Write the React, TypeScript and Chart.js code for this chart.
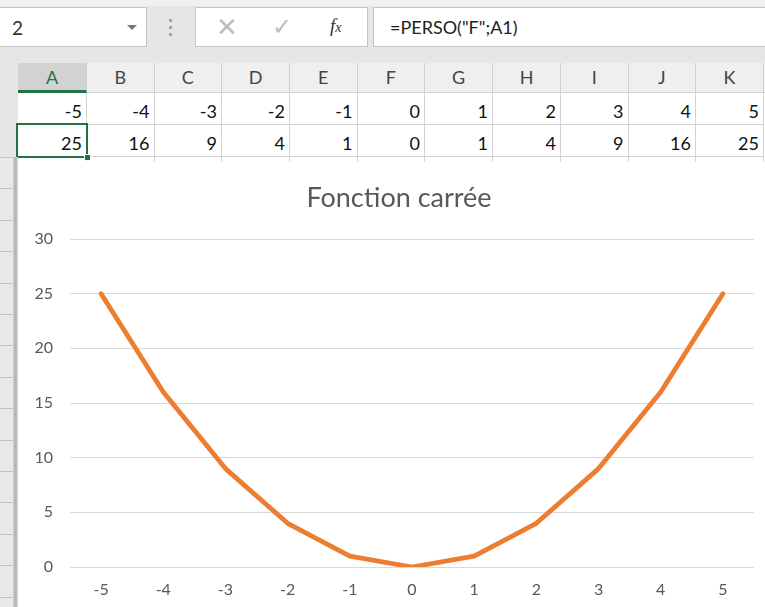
import React, { useEffect, useRef } from "react";
import { Chart, registerables } from "chart.js";

Chart.register(...registerables);

// ---- data ----
const COLUMNS = ["A", "B", "C", "D", "E", "F", "G", "H", "I", "J", "K"];
const X_VALUES = [-5, -4, -3, -2, -1, 0, 1, 2, 3, 4, 5];
const Y_VALUES = [25, 16, 9, 4, 1, 0, 1, 4, 9, 16, 25];
const CHART_TITLE = "Fonction carrée";
const FORMULA = '=PERSO("F";A1)';
const NAME_BOX = "2";
const Y_MIN = 0;
const Y_MAX = 30;
const Y_STEP = 5;

// ---- layout ----
const COL_EDGES = [18, 87, 154.5, 222, 290, 357.5, 425, 493, 561, 628.5, 696, 764];
const FONT = "Lato, 'Open Sans', sans-serif";
const GRID = "#d4d4d4";

// Draws the chart title centred over the whole chart object (Excel-style)
const excelTitle = {
  id: "excelTitle",
  afterDraw(chart: any) {
    const ctx = chart.ctx;
    ctx.save();
    ctx.font = `27px ${FONT}`;
    ctx.fillStyle = "#595959";
    ctx.textAlign = "center";
    ctx.textBaseline = "middle";
    ctx.fillText(CHART_TITLE, 381, 36);
    ctx.restore();
  },
};

function ChartBox() {
  const ref = useRef<HTMLCanvasElement | null>(null);
  useEffect(() => {
    if (!ref.current) return;
    const chart = new Chart(ref.current, {
      type: "line",
      data: {
        labels: X_VALUES.map(String),
        datasets: [
          {
            data: Y_VALUES,
            borderColor: "#ED7D31",
            backgroundColor: "#ED7D31",
            borderWidth: 4.8,
            pointRadius: 0,
            tension: 0,
            borderJoinStyle: "round",
            borderCapStyle: "round",
          },
        ],
      },
      plugins: [excelTitle],
      options: {
        responsive: false,
        animation: false,
        layout: { padding: { left: 0, right: 11, top: 77, bottom: 0 } },
        plugins: {
          legend: { display: false },
          tooltip: { enabled: false },
          title: { display: false },
        },
        scales: {
          x: {
            type: "category",
            offset: true,
            grid: { display: false, drawTicks: false },
            border: { display: false },
            ticks: {
              color: "#595959",
              font: { family: FONT, size: 16 },
              padding: 13,
              maxRotation: 0,
            },
            afterFit: (s: any) => {
              s.height = 40;
            },
          },
          y: {
            min: Y_MIN,
            max: Y_MAX,
            grid: { color: "#d9d9d9", lineWidth: 1, drawTicks: false },
            border: { display: false },
            ticks: {
              stepSize: Y_STEP,
              color: "#595959",
              font: { family: FONT, size: 16 },
              padding: 17,
            },
            afterFit: (s: any) => {
              s.width = 52;
            },
          },
        },
      },
    } as any);
    return () => chart.destroy();
  }, []);
  return <canvas ref={ref} width={747} height={445} style={{ width: 747, height: 445, display: "block" }} />;
}

const abs = (l: number, t: number, w: number, h: number, extra: React.CSSProperties = {}): React.CSSProperties => ({
  position: "absolute",
  left: l,
  top: t,
  width: w,
  height: h,
  boxSizing: "border-box",
  ...extra,
});

export default function App() {
  const rowTicks: number[] = [];
  for (let y = 157; y < 607; y += 31.4) rowTicks.push(Math.round(y));

  return (
    <div style={{ position: "fixed", left: 0, top: 0, width: 765, height: 607, overflow: "hidden", background: "#e6e6e6", fontFamily: FONT }}>
      {/* toolbar */}
      <div style={abs(0, 0, 765, 6, { background: "#f0f0f0" })} />
      <div style={abs(-1, 7, 148, 40, { background: "#fff", border: "1px solid #c6c6c6" })}>
        <div style={{ position: "absolute", left: 12, top: 8, fontSize: 19, color: "#333", lineHeight: "24px" }}>{NAME_BOX}</div>
        <div style={{ position: "absolute", left: 127, top: 17, width: 0, height: 0, borderLeft: "5px solid transparent", borderRight: "5px solid transparent", borderTop: "5px solid #777" }} />
      </div>
      {[19, 26, 33].map((y) => (
        <div key={y} style={abs(169, y, 3, 3, { background: "#a8a8a8" })} />
      ))}
      <div style={abs(195, 7, 173, 40, { background: "#fff", border: "1px solid #c6c6c6" })}>
        <div style={{ position: "absolute", left: 20, top: 3, fontSize: 26, color: "#bdbdbd", lineHeight: "30px" }}>✕</div>
        <div style={{ position: "absolute", left: 76, top: 3, fontSize: 24, color: "#bdbdbd", lineHeight: "30px" }}>✓</div>
        <div style={{ position: "absolute", left: 134, top: 6, fontSize: 19, color: "#333", lineHeight: "24px", fontFamily: "'Liberation Serif', serif", fontStyle: "italic" }}>
          f<span style={{ fontSize: 14 }}>x</span>
        </div>
      </div>
      <div style={abs(373, 7, 400, 40, { background: "#fff", border: "1px solid #c6c6c6" })}>
        <div style={{ position: "absolute", left: 16, top: 7, fontSize: 18, color: "#222", lineHeight: "24px" }}>{FORMULA}</div>
      </div>

      {/* column headers */}
      <div style={abs(18, 63, 747, 30, { background: "#efefef", borderBottom: "1px solid #d0d0d0" })} />
      {COLUMNS.map((c, i) => {
        const l = COL_EDGES[i];
        const w = COL_EDGES[i + 1] - l;
        const sel = i === 0;
        return (
          <div
            key={c}
            style={abs(l, 63, w, 30, {
              background: sel ? "#d2d2d2" : "transparent",
              borderRight: "1px solid #d0d0d0",
              borderBottom: sel ? "3px solid #217346" : "1px solid #d0d0d0",
              textAlign: "center",
              fontSize: 18,
              lineHeight: "28px",
              color: sel ? "#217346" : "#444",
            })}
          >
            {c}
          </div>
        );
      })}

      {/* cells */}
      <div style={abs(18, 93, 747, 69, { background: "#fff" })} />
      {[X_VALUES, Y_VALUES].map((row, r) =>
        row.map((v, i) => {
          const l = COL_EDGES[i];
          const w = COL_EDGES[i + 1] - l;
          return (
            <div
              key={r + "-" + i}
              style={abs(l, 93 + r * 32, w, 32, {
                borderRight: "1px solid " + GRID,
                borderBottom: "1px solid " + GRID,
                textAlign: "right",
                paddingRight: 4,
                fontSize: 18,
                lineHeight: "36px",
                color: "#111",
              })}
            >
              {v}
            </div>
          );
        })
      )}
      {COLUMNS.map((c, i) => (
        <div key={"r3" + c} style={abs(COL_EDGES[i + 1] - 1, 157, 1, 6, { background: GRID })} />
      ))}
      {/* selected cell A2 */}
      <div style={abs(16, 123, 72, 35, { border: "2px solid #217346" })} />
      <div style={abs(84, 154, 7, 7, { background: "#217346", border: "1px solid #fff" })} />

      {/* row headers strip */}
      <div style={abs(0, 157, 14, 450, { background: "#e9e9e9" })} />
      {rowTicks.map((y) => (
        <div key={"t" + y} style={abs(0, y, 13, 1, { background: "#c4c4c4" })} />
      ))}
      <div style={abs(13, 157, 5, 450, { background: "linear-gradient(to right, #d0d0d0, #b4b4b4, #d8d8d8)" })} />

      {/* chart */}
      <div style={abs(18, 162, 747, 445, { background: "#fff" })}>
        <ChartBox />
      </div>
    </div>
  );
}
